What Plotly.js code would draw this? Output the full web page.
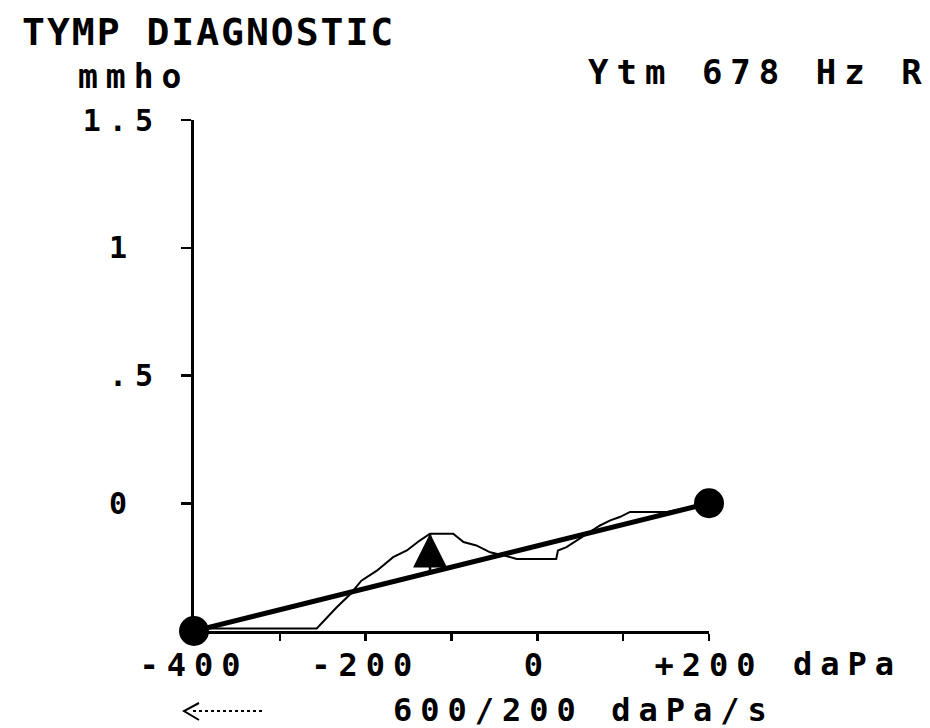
<!DOCTYPE html>
<html><head><meta charset="utf-8">
<script src="https://cdn.plot.ly/plotly-3.0.1.min.js"></script>
<style>
html,body{margin:0;padding:0;background:#fff;}
#chart .main-svg text{letter-spacing:8px;}
#chart .main-svg .gtitle{letter-spacing:2px;}
</style></head><body>
<div id="chart" style="width:930px;height:728px;"></div>
<script>
// Tympanogram trace (pressure in daPa, admittance in mmho, baseline-referenced)
const pressure = [-400, -257, -234, -218, -205, -187, -168, -152, -137, -125, -98, -86, -71, -55, -38, -24, 22, 24, 34, 61, 73, 85, 96, 108, 151, 200];
const admittance = [-0.49, -0.49, -0.408, -0.356, -0.303, -0.264, -0.211, -0.185, -0.146, -0.119, -0.119, -0.152, -0.165, -0.192, -0.205, -0.218, -0.218, -0.185, -0.172, -0.113, -0.087, -0.067, -0.054, -0.034, -0.034, 0];
// Baseline (tail-to-tail) line
const baselineX = [-400, 200];
const baselineY = [-0.5, 0];
// Peak indicator
const peakPressure = -125;
const peakAdmittance = -0.118;
const baselineAtPeak = -0.271;
// Axis ticks
const yTickVals = [1.5, 1, 0.5, 0];
const yTickText = ['1.5', '1\u00a0', '.5', '0\u00a0'];
const xTickVals = [-400, -300, -200, -100, 0, 100, 200];
const xTickText = ['-400', '', '-200', '', '0', '', '+200'];

const FONT = 'DejaVu Sans Mono';
const W = 930, H = 728, L = 194, R = 221, T = 120, B = 97;
const pw = W - L - R, ph = H - T - B;
const px = v => (v - L) / pw;       // pixel x -> paper x
const py = v => (H - B - v) / ph;   // pixel y -> paper y

const traces = [
  {x: pressure, y: admittance, mode: 'lines', line: {color: '#000', width: 2}, cliponaxis: false, hoverinfo: 'skip'},
  {x: baselineX, y: baselineY, mode: 'lines+markers', line: {color: '#000', width: 5},
   marker: {symbol: 'circle', size: 30, color: '#000'}, cliponaxis: false, hoverinfo: 'skip'},
  {x: [peakPressure, peakPressure], y: [baselineAtPeak, peakAdmittance], mode: 'lines',
   line: {color: '#000', width: 2.5}, hoverinfo: 'skip'},
  {x: [peakPressure], y: [peakAdmittance], mode: 'markers',
   marker: {symbol: 'arrow-up', size: 34, color: '#000', line: {width: 0}}, hoverinfo: 'skip'}
];

const layout = {
  width: W, height: H,
  margin: {l: L, r: R, t: T, b: B, pad: 0},
  paper_bgcolor: '#fff', plot_bgcolor: '#fff',
  showlegend: false,
  font: {family: FONT, color: '#000', weight: 'bold'},
  title: {text: 'TYMP DIAGNOSTIC', x: 22 / W, xanchor: 'left', xref: 'container',
          y: 1 - 32 / H, yanchor: 'middle', yref: 'container',
          font: {family: FONT, size: 38, color: '#000', weight: 'bold'}},
  xaxis: {range: [-400, 200], showgrid: false, zeroline: false, showline: true,
          linecolor: '#000', linewidth: 3, ticks: 'outside', ticklen: 7, tickwidth: 2.5,
          tickcolor: '#000', tickvals: xTickVals, ticktext: xTickText,
          tickfont: {family: FONT, size: 32, color: '#000', weight: 'bold'}, ticklabelstandoff: -3, fixedrange: true},
  yaxis: {range: [-0.5, 1.5], showgrid: false, zeroline: false, showline: true,
          linecolor: '#000', linewidth: 3, ticks: 'outside', ticklen: 10, tickwidth: 2.5,
          tickcolor: '#000', tickvals: yTickVals, ticktext: yTickText,
          tickfont: {family: FONT, size: 30, color: '#000', weight: 'bold'}, ticklabelstandoff: 14, fixedrange: true},
  annotations: [
    {text: 'mmho', xref: 'paper', yref: 'paper', x: px(76), y: py(76), xanchor: 'left', yanchor: 'middle',
     align: 'left', showarrow: false, font: {family: FONT, size: 33, color: '#000', weight: 'bold'}},
    {text: 'Ytm 678 Hz R', xref: 'paper', yref: 'paper', x: px(586), y: py(72), xanchor: 'left', yanchor: 'middle',
     align: 'left', showarrow: false, font: {family: FONT, size: 34, color: '#000', weight: 'bold'}},
    {text: 'daPa', xref: 'paper', yref: 'paper', x: px(791), y: py(664), xanchor: 'left', yanchor: 'middle',
     align: 'left', showarrow: false, font: {family: FONT, size: 32, color: '#000', weight: 'bold'}},
    {text: '600/200 daPa/s', xref: 'paper', yref: 'paper', x: px(391), y: py(710), xanchor: 'left', yanchor: 'middle',
     align: 'left', showarrow: false, font: {family: FONT, size: 32, color: '#000', weight: 'bold'}}
  ],
  shapes: [
    {type: 'line', xref: 'paper', yref: 'paper', x0: px(193), x1: px(265), y0: py(711), y1: py(711),
     line: {color: '#000', width: 2, dash: 'dot'}},
    {type: 'path', xref: 'paper', yref: 'paper',
     path: 'M ' + px(199) + ',' + py(703) + ' L ' + px(184) + ',' + py(711) + ' L ' + px(199) + ',' + py(720),
     line: {color: '#000', width: 2}}
  ]
};

Plotly.newPlot('chart', traces, layout, {staticPlot: true, displayModeBar: false});
</script>
</body></html>
